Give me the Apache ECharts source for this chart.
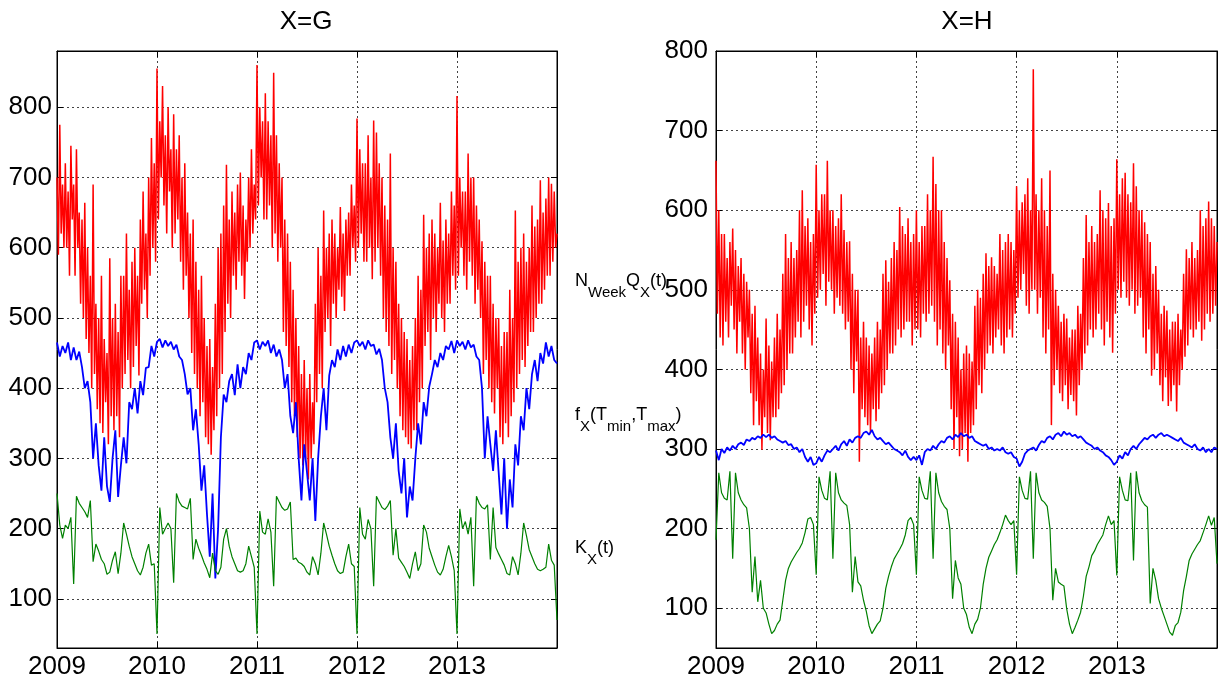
<!DOCTYPE html>
<html>
<head>
<meta charset="utf-8">
<script src="https://cdn.jsdelivr.net/npm/echarts@6/dist/echarts.min.js"></script>
<style>
html, body { margin: 0; padding: 0; background: #fff; }
#main { width: 1222px; height: 684px; }
</style>
</head>
<body>
<div id="main"></div>
<script>
// x runs in years, 2009 .. 2014
const startYear = 2009
const yearTicks = [2009, 2010, 2011, 2012, 2013, 2014]
const yTicks = [100, 200, 300, 400, 500, 600, 700, 800]

// N_Week Q_X(t), 6 samples per month
const redG = [
  700,590,775,620,690,600, 720,600,680,560,745,640, 690,560,740,600,650,520, 640,500,664,470,600,450, 560,400,690,420,520,370, 500,350,560,336,470,380,
  450,320,585,360,500,340, 520,360,480,330,560,400, 560,420,620,440,540,400, 580,430,600,460,560,418, 640,520,680,540,620,500, 700,560,756,600,720,580,
  855,640,780,700,830,660, 760,620,800,680,740,600, 790,620,740,640,760,580, 700,540,720,560,650,500, 620,450,640,420,580,400, 540,360,560,380,500,330,
  460,320,470,305,430,340, 520,360,600,400,620,420, 660,480,718,520,640,500, 680,560,650,540,690,580, 707,560,660,527,640,580, 700,600,740,620,690,640,
  860,660,800,700,780,640, 820,640,780,660,760,600, 849,620,760,580,720,600, 700,480,640,460,620,430, 580,380,540,360,500,330, 460,300,420,290,440,300,
  400,270,420,300,380,320, 520,380,600,420,560,400, 653,480,600,500,620,460, 640,520,620,500,600,540, 658,530,620,510,640,560, 650,560,690,600,660,580,
  784,600,740,620,720,580, 720,580,760,600,700,555, 781,580,764,600,720,560, 700,500,660,480,640,460, 734,420,600,440,580,400, 520,360,500,340,480,330,
  470,320,440,314,460,340, 500,340,560,380,540,400, 647,460,600,480,620,440, 640,500,620,480,600,520, 664,500,610,480,640,520, 620,520,680,560,660,540,
  816,560,700,600,680,560, 680,540,734,580,700,560, 700,520,660,540,640,500, 609,420,580,440,560,400, 560,380,520,364,500,400, 500,330,460,320,480,350,
  480,330,540,360,500,380, 653,400,580,420,600,440, 620,430,580,460,600,480, 660,480,630,500,640,520, 696,520,650,540,670,560, 700,560,691,580,680,600,
  620
]
const redH = [
  662,470,600,440,570,430, 570,460,540,440,560,480, 577,450,550,420,530,460, 540,420,520,400,510,440, 500,370,470,330,480,360, 440,330,420,299,400,340,
  464,320,430,311,410,340, 440,340,470,350,450,370, 520,380,570,400,540,420, 560,420,540,440,550,460, 600,440,625,460,580,480, 590,450,560,430,570,470,
  657,490,600,500,620,520, 620,480,662,510,600,500, 600,470,580,490,590,480, 620,470,575,450,560,460, 561,400,520,370,500,410, 500,284,440,350,460,340,
  440,330,430,320,420,350, 440,335,460,350,450,370, 520,380,537,400,510,420, 540,420,560,430,550,450, 604,440,580,450,570,460, 590,460,560,430,570,450,
  600,450,560,440,580,470, 580,460,620,470,600,480, 667,460,633,430,600,450, 600,420,560,400,540,430, 512,350,470,300,460,340, 440,291,400,300,420,320,
  430,284,420,320,410,330, 480,350,500,380,490,370, 520,400,546,420,530,430, 541,420,530,440,520,450, 570,430,550,420,560,440, 570,450,560,440,550,470,
  630,490,600,500,610,520, 620,480,640,470,600,500, 777,500,620,470,600,490, 640,440,600,420,580,450, 650,330,520,380,500,400, 480,370,460,360,470,380,
  464,350,440,368,450,360, 450,342,480,380,470,400, 540,420,594,430,560,450, 580,440,560,450,570,470, 625,450,600,430,590,460, 609,440,580,421,590,470,
  664,500,620,490,640,510, 647,490,620,480,610,500, 659,470,630,480,600,490, 600,440,585,420,570,450, 560,392,520,400,530,420, 500,380,470,360,480,390,
  474,354,450,360,460,380, 460,347,470,380,450,400, 520,416,551,430,540,450, 560,440,540,450,550,460, 600,436,580,450,590,470, 611,460,590,470,580,480,
  560
]

// f_X(Tmin,Tmax), 3 samples per month
const blueG = [
  465,445,460, 450,465,440, 458,440,452, 430,400,410, 380,300,350, 290,254,330, 260,238,300, 340,245,290, 330,293,380, 370,400,364, 410,390,429, 430,460,445,
  466,470,458, 468,460,466, 455,462,445, 440,420,391, 400,340,370, 320,254,290, 220,160,250, 129,200,330, 391,380,410, 420,390,434, 400,430,420, 450,440,465,
  468,455,466, 460,468,450, 462,445,455, 440,400,420, 360,336,380, 300,240,320, 280,240,300, 211,300,360, 400,340,418, 440,430,455, 440,460,445, 462,450,465,
  468,460,466, 455,468,460, 462,448,456, 440,400,380, 330,300,350, 282,250,300, 216,260,240, 300,350,320, 380,360,402, 420,440,430, 450,440,460, 455,467,450,
  468,460,466, 455,468,458, 462,445,440, 400,300,360, 320,282,340, 280,220,300, 200,270,230, 320,290,360, 340,400,370, 420,440,410, 450,435,465, 445,460,440,
  435
]
const blueH = [
  298,286,300, 295,302,298, 304,300,306, 308,305,312, 310,314,312, 316,314,318, 315,318,314, 316,312,310, 308,310,305, 306,300,302, 296,300,290, 284,290,280,
  282,290,284, 292,298,296, 300,304,298, 306,310,304, 312,308,314, 316,314,320, 322,318,324, 316,312,314, 310,306,308, 304,300,298, 296,292,298, 290,286,290,
  286,292,280, 296,300,298, 304,300,306, 310,308,314, 316,312,318, 315,320,316, 318,314,316, 310,308,306, 304,306,300, 302,298,300, 298,302,296, 294,296,290,
  288,278,284, 294,298,300, 302,298,305, 310,308,314, 316,312,318, 320,316,322, 318,320,316, 318,314,316, 312,308,306, 304,300,302, 298,296,292, 290,286,280,
  284,292,288, 296,292,300, 304,300,306, 310,314,312, 316,318,314, 318,320,316, 318,316,314, 312,310,314, 308,306,304, 302,306,300, 298,302,296, 300,296,302,
  300
]

// K_X(t), 3 samples per month
const greenG = [
  250,205,186,205,200,216,121,246,236,230,224,216,240,153,178,168,156,150,135,138,155,167,136,165,208,192,175,160,150,140,134,145,165,178,148,150,
  50,230,192,200,208,200,123,250,238,232,230,228,243,156,185,172,162,151,142,130,165,140,135,145,185,200,175,160,150,140,138,140,150,175,160,145,
  50,225,195,192,214,195,118,246,238,230,226,228,238,156,158,152,150,146,138,134,160,150,134,165,208,192,175,162,150,140,136,138,160,178,150,146,
  50,230,192,185,213,200,118,246,238,230,227,232,240,162,200,158,152,146,138,129,150,167,140,150,205,195,172,160,148,138,134,142,160,176,160,140,
  50,228,200,210,192,216,118,246,236,230,228,234,156,230,173,164,156,148,136,134,160,150,134,165,208,190,170,160,150,142,140,142,145,178,155,148,
  70
]
const greenH = [
  186,270,245,238,236,272,162,270,245,236,230,226,200,120,165,108,135,100,94,80,68,72,80,85,110,135,150,158,164,170,175,182,195,212,214,205,
  142,265,248,238,236,272,162,270,245,236,232,229,205,120,165,133,128,110,96,78,68,74,80,84,100,125,140,152,162,168,174,181,192,210,214,205,
  142,265,248,238,237,272,162,270,245,234,228,224,200,112,160,138,130,100,92,76,68,80,86,100,130,150,164,172,180,186,195,205,217,210,205,210,
  142,265,248,238,237,272,162,270,245,236,233,228,200,110,150,133,130,128,99,80,68,76,85,95,115,140,152,166,172,180,186,192,205,216,205,210,
  141,265,248,236,235,270,160,272,245,235,230,227,106,150,135,112,100,90,80,70,66,78,82,95,122,140,160,168,174,180,185,195,205,216,204,214,
  156
]

const font = 'Liberation Sans, Arial, sans-serif'

function toPoints(vals, perYear) {
  return vals.map((v, i) => [startYear + i / perYear, v])
}

const dotted = { show: true, lineStyle: { color: '#444', type: [2, 3], width: 1 } }
const black = { color: '#000', width: 1 }

function xAxes(gridIndex) {
  const base = {
    type: 'value', gridIndex, min: yearTicks[0], max: yearTicks[yearTicks.length - 1], interval: 1,
    axisLine: { show: true, lineStyle: black },
    axisTick: { show: true, inside: true, length: 6, lineStyle: black }
  }
  return [
    Object.assign({}, base, {
      position: 'bottom',
      axisLabel: { fontSize: 26, fontFamily: font, color: '#000', margin: 6,
        formatter: v => (v < 2014 ? String(v) : '') },
      splitLine: dotted
    }),
    Object.assign({}, base, { position: 'top', axisLabel: { show: false }, splitLine: { show: false } })
  ]
}

function yAxes(gridIndex, min, max, margin) {
  const base = {
    type: 'value', gridIndex, min, max,
    axisLine: { show: true, lineStyle: black },
    axisTick: { show: true, inside: true, length: 6, customValues: yTicks, lineStyle: black }
  }
  return [
    Object.assign({}, base, {
      position: 'left',
      axisLabel: { customValues: yTicks, fontSize: 26, fontFamily: font, color: '#000', margin },
      splitLine: dotted
    }),
    Object.assign({}, base, { position: 'right', axisLabel: { show: false }, splitLine: { show: false } })
  ]
}

function line(data, perYear, color, width, axisIndex) {
  return {
    type: 'line', xAxisIndex: axisIndex, yAxisIndex: axisIndex,
    data: toPoints(data, perYear),
    showSymbol: false, symbol: 'none', silent: true, animation: false,
    lineStyle: { color, width }, itemStyle: { color }
  }
}

// main text sits at the top of the line box, subscripts at its bottom
const m = { fontSize: 18, fontFamily: font, fill: '#000', lineHeight: 20, verticalAlign: 'top' }
const s = { fontSize: 15, fontFamily: font, fill: '#000', lineHeight: 28, verticalAlign: 'bottom' }

const myChart = echarts.init(document.getElementById('main'))
const option = {
  backgroundColor: '#fff',
  animation: false,
  grid: [
    { left: 57, top: 51, width: 500, height: 597, show: true, borderColor: '#000', borderWidth: 1, backgroundColor: '#fff' },
    { left: 716, top: 51, width: 501, height: 597, show: true, borderColor: '#000', borderWidth: 1, backgroundColor: '#fff' }
  ],
  // index 0/1 = left panel, 2/3 = right panel
  xAxis: xAxes(0).concat(xAxes(1)),
  yAxis: yAxes(0, 30, 880, 5).concat(yAxes(1, 50, 800, 8)),
  series: [
    line(redG, 72, '#ff0000', 1.5, 0),
    line(blueG, 36, '#0000ff', 1.8, 0),
    line(greenG, 36, '#008000', 1.2, 0),
    line(redH, 72, '#ff0000', 1.5, 2),
    line(blueH, 36, '#0000ff', 1.8, 2),
    line(greenH, 36, '#008000', 1.2, 2)
  ],
  graphic: [
    { type: 'text', x: 306, y: 22, style: { text: 'X=G', fontSize: 26, fontFamily: font, fill: '#000', align: 'center', verticalAlign: 'middle' } },
    { type: 'text', x: 967, y: 22, style: { text: 'X=H', fontSize: 26, fontFamily: font, fill: '#000', align: 'center', verticalAlign: 'middle' } },
    { type: 'text', x: 575, y: 272, style: { text: '{m|N}{s|Week}{m|Q}{s|X}{m|(t)}', rich: { m, s }, align: 'left', verticalAlign: 'top' } },
    { type: 'text', x: 575, y: 406, style: { text: '{m|f}{s|X}{m|(T}{s|min}{m|,T}{s|max}{m|)}', rich: { m, s }, align: 'left', verticalAlign: 'top' } },
    { type: 'text', x: 575, y: 539, style: { text: '{m|K}{s|X}{m|(t)}', rich: { m, s }, align: 'left', verticalAlign: 'top' } }
  ]
}
myChart.setOption(option)
</script>
</body>
</html>
